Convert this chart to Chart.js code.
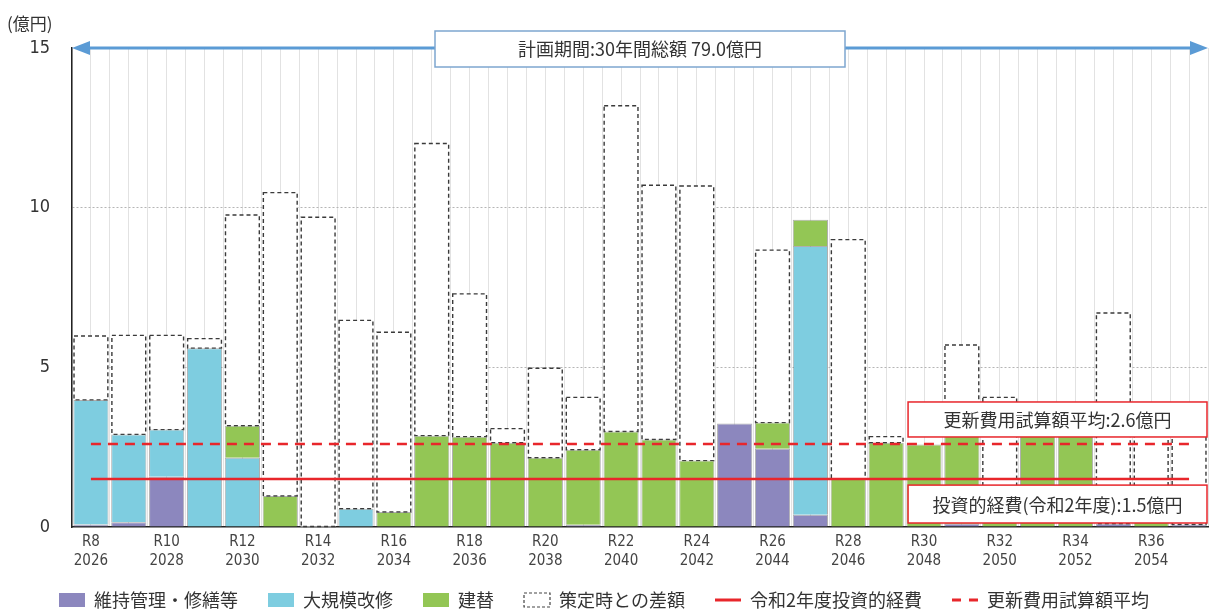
<!DOCTYPE html>
<html lang="ja">
<head>
<meta charset="utf-8">
<title>投資的経費の見通し</title>
<script src="https://cdn.jsdelivr.net/npm/chart.js@4.4.1/dist/chart.umd.min.js"></script>
<style>
  html, body { margin: 0; padding: 0; background: #fff; }
</style>
</head>
<body>
<canvas id="costChart" width="1210" height="609"></canvas>
<script>
// 年度ラベル（令和 / 西暦）
const fiscalLabels = ['R8','R9','R10','R11','R12','R13','R14','R15','R16','R17',
  'R18','R19','R20','R21','R22','R23','R24','R25','R26','R27',
  'R28','R29','R30','R31','R32','R33','R34','R35','R36','R37'];
const years = [2026,2027,2028,2029,2030,2031,2032,2033,2034,2035,
  2036,2037,2038,2039,2040,2041,2042,2043,2044,2045,
  2046,2047,2048,2049,2050,2051,2052,2053,2054,2055];

// 億円
const maintenance = [0.08,0.15,1.57,0,0,0,0,0,0,0,
  0,0,0,0.07,0,0,0,3.24,2.45,0.38,
  0,0,0,0.1,0,0,0,0.1,0,0.08];
const renovation = [3.9,2.75,1.48,5.6,2.17,0,0,0.57,0,0,
  0,0,0,0,0,0,0,0,0,8.42,
  0,0,0,0,0,0,0,0,0,0];
const rebuild = [0,0,0,0,1.0,0.97,0,0,0.47,2.86,
  2.83,2.64,2.17,2.35,2.99,2.74,2.08,0,0.82,0.82,
  1.5,2.64,2.58,3.4,1.1,3.6,3.6,0,1.1,0];
const planDiff = [2.0,3.1,2.95,0.3,6.6,9.5,9.7,5.9,5.63,9.15,
  4.47,0.44,2.8,1.64,10.2,7.96,8.6,0,5.4,0,
  7.5,0.19,0,2.2,2.96,0,0,6.6,2.1,3.0];

const investLine = 1.5;   // 令和2年度投資的経費
const renewalAvg = 2.6;   // 更新費用試算額平均
const planTotal = 79.0;   // 30年間総額
const yTicks = [0, 5, 10, 15];

const FONT = '"Liberation Sans Narrow", "DejaVu Sans Condensed", "Noto Sans CJK JP", sans-serif';
const JP_FONT = '"Noto Sans CJK JP", sans-serif';
const RED = '#e8262b';
const DIFF_INDEX = 5;
const LEGEND_HEIGHT = 36;
const LEGEND_SHIFT = 12;

// 策定時との差額は点線の枠で描く、注記と矢印も重ねる
const overlay = {
  id: 'overlay',
  afterInit(chart) {
    // 凡例の横の間隔はそのままで高さだけ詰める
    const lg = chart.legend;
    const fit = lg.fit.bind(lg);
    lg.fit = function () { fit(); this.height = LEGEND_HEIGHT; };
    lg.draw = function () {
      if (!this.options.display) return;
      chart.ctx.save();
      chart.ctx.translate(0, -LEGEND_SHIFT);
      this._draw();
      chart.ctx.restore();
    };
  },
  afterDatasetDraw(chart, args) {
    if (args.index !== DIFF_INDEX) return;
    const ctx = chart.ctx;
    ctx.save();
    ctx.strokeStyle = '#3a3a3a';
    ctx.lineWidth = 1.4;
    ctx.setLineDash([4, 3]);
    args.meta.data.forEach((bar, i) => {
      if (!planDiff[i]) return;
      const { x, y, base, width } = bar.getProps(['x', 'y', 'base', 'width'], true);
      ctx.strokeRect(x - width / 2 + 0.7, y, width - 1.4, base - y);
    });
    ctx.restore();
  },
  afterDraw(chart) {
    const ctx = chart.ctx;
    const { left, right } = chart.chartArea;
    const ys = chart.scales.y;
    const xs = chart.scales.x;
    const half = (xs.getPixelForValue(1) - xs.getPixelForValue(0)) / 2;

    ctx.save();
    // 計画期間の矢印
    const ay = ys.getPixelForValue(15);
    ctx.strokeStyle = '#5b9bd5';
    ctx.fillStyle = '#5b9bd5';
    ctx.lineWidth = 3;
    ctx.beginPath();
    ctx.moveTo(left + 10, ay);
    ctx.lineTo(right - 10, ay);
    ctx.stroke();
    ctx.beginPath();
    ctx.moveTo(left, ay); ctx.lineTo(left + 18, ay - 7); ctx.lineTo(left + 18, ay + 7); ctx.closePath();
    ctx.moveTo(right, ay); ctx.lineTo(right - 18, ay - 7); ctx.lineTo(right - 18, ay + 7); ctx.closePath();
    ctx.fill();

    const cx = (left + right) / 2;
    ctx.fillStyle = '#fff';
    ctx.strokeStyle = '#7ea6cf';
    ctx.lineWidth = 1.5;
    ctx.fillRect(cx - 205, ay - 17, 410, 36);
    ctx.strokeRect(cx - 205, ay - 17, 410, 36);
    ctx.fillStyle = '#333';
    ctx.font = '18px ' + JP_FONT;
    ctx.textAlign = 'center';
    ctx.textBaseline = 'middle';
    ctx.fillText('計画期間:30年間総額 ' + planTotal.toFixed(1) + '億円', cx, ay + 1);

    // 右側の注記
    const bx = xs.getPixelForValue(22) - half + 3;
    const bw = right - 1 - bx;
    const drawNote = (top, bottom, text) => {
      ctx.fillStyle = '#fff';
      ctx.fillRect(bx, top, bw, bottom - top);
      ctx.strokeStyle = RED;
      ctx.lineWidth = 1.5;
      ctx.strokeRect(bx, top, bw, bottom - top);
      ctx.fillStyle = '#333';
      ctx.fillText(text, bx + bw / 2, (top + bottom) / 2 + 1);
    };
    const avgY = ys.getPixelForValue(renewalAvg);
    drawNote(avgY - 42, avgY - 7, '更新費用試算額平均:' + renewalAvg.toFixed(1) + '億円');
    const invY = ys.getPixelForValue(investLine);
    drawNote(invY + 6, ys.getPixelForValue(0) - 4, '投資的経費(令和2年度):' + investLine.toFixed(1) + '億円');

    // 単位
    ctx.textAlign = 'left';
    ctx.font = '17px ' + JP_FONT;
    ctx.fillText('(億円)', 7, 24);
    ctx.restore();
  }
};

const barBase = {
  type: 'bar',
  stack: 'cost',
  borderWidth: 1,
  borderColor: 'rgba(110,110,110,0.55)',
  barPercentage: 0.93,
  categoryPercentage: 1.0
};

const legendItems = [
  { text: '維持管理・修繕等', fillStyle: '#8c87be', strokeStyle: '#8c87be', lineWidth: 0, pointStyle: 'rect' },
  { text: '大規模改修', fillStyle: '#7ecde0', strokeStyle: '#7ecde0', lineWidth: 0, pointStyle: 'rect' },
  { text: '建替', fillStyle: '#93c655', strokeStyle: '#93c655', lineWidth: 0, pointStyle: 'rect' },
  { text: '策定時との差額', fillStyle: '#fff', strokeStyle: '#444', lineWidth: 1.2, lineDash: [3, 2], pointStyle: 'rect' },
  { text: '令和2年度投資的経費', fillStyle: RED, strokeStyle: RED, lineWidth: 3, pointStyle: 'line' },
  { text: '更新費用試算額平均', fillStyle: RED, strokeStyle: RED, lineWidth: 3, lineDash: [9, 8], pointStyle: 'line' }
];

new Chart(document.getElementById('costChart'), {
  data: {
    labels: fiscalLabels,
    datasets: [
      { type: 'line', label: '令和2年度投資的経費', stack: 'invest', order: -1,
        data: fiscalLabels.map(() => investLine),
        borderColor: RED, borderWidth: 2.5, pointRadius: 0 },
      { type: 'line', label: '更新費用試算額平均', stack: 'avg', order: -1,
        data: fiscalLabels.map(() => renewalAvg),
        borderColor: RED, borderWidth: 2.5, borderDash: [10, 7], pointRadius: 0 },
      { ...barBase, label: '維持管理・修繕等', data: maintenance, backgroundColor: '#8c87be' },
      { ...barBase, label: '大規模改修', data: renovation, backgroundColor: '#7ecde0' },
      { ...barBase, label: '建替', data: rebuild, backgroundColor: '#93c655' },
      { ...barBase, label: '策定時との差額', data: planDiff, backgroundColor: '#fff', borderWidth: 0 }
    ]
  },
  options: {
    responsive: false,
    animation: false,
    devicePixelRatio: 1,
    layout: { padding: { top: 48, right: 2, left: 0, bottom: 0 } },
    plugins: {
      tooltip: { enabled: false },
      legend: {
        position: 'bottom',
        labels: {
          usePointStyle: true,
          pointStyleWidth: 26,
          boxHeight: 14,
          padding: 30,
          color: '#333',
          font: { size: 18, family: JP_FONT },
          generateLabels: () => legendItems.map((it, i) => ({ ...it, datasetIndex: i, hidden: false, fontColor: '#333' }))
        }
      }
    },
    scales: {
      x: {
        stacked: true,
        offset: true,
        grid: { offset: true, color: '#e2e2e2', drawTicks: false },
        border: { color: '#222', width: 1.5 },
        ticks: {
          autoSkip: false,
          maxRotation: 0,
          padding: 5,
          color: '#444',
          font: { size: 15, family: FONT, lineHeight: 1.3 },
          callback: (v, i) => i % 2 === 0 ? [fiscalLabels[i], String(years[i])] : ''
        },
        afterFit: (s) => { s.height = 46; }
      },
      xc: {
        type: 'category',
        labels: fiscalLabels,
        position: 'bottom',
        offset: true,
        grid: { offset: false, color: '#e2e2e2', drawTicks: false },
        border: { display: false },
        ticks: { display: false },
        afterFit: (s) => { s.height = 0; }
      },
      y: {
        stacked: true,
        min: 0,
        max: 15,
        afterBuildTicks: (s) => { s.ticks = yTicks.map(v => ({ value: v })); },
        grid: {
          drawTicks: false,
          color: (c) => (c.tick.value === 5 || c.tick.value === 10) ? '#b5b5b5' : 'rgba(0,0,0,0)'
        },
        border: { color: '#222', width: 1.5, dash: [2, 2] },
        ticks: { padding: 22, color: '#333', font: { size: 18, family: FONT } },
        afterFit: (s) => { s.width = 72; }
      }
    }
  },
  plugins: [overlay]
});
</script>
</body>
</html>
